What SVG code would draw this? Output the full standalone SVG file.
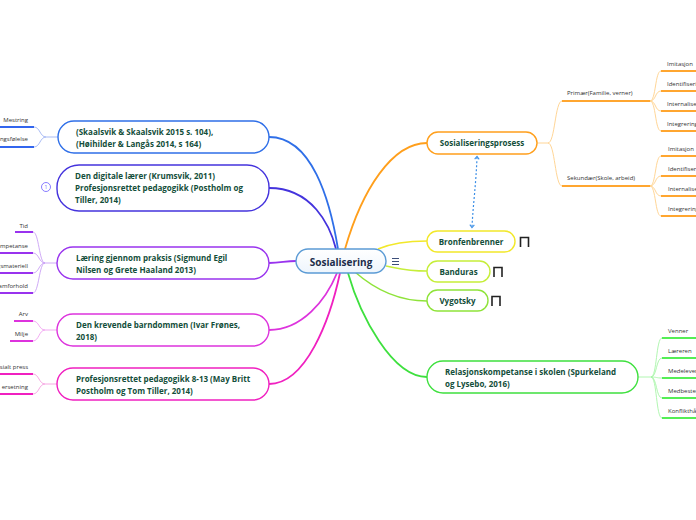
<svg xmlns="http://www.w3.org/2000/svg" width="696" height="520" viewBox="0 0 696 520">
<defs>
<style>
.nt{font-family:"Open Sans","Noto Sans",sans-serif;font-weight:bold;font-size:8px;fill:#134e3a}
.lt{font-family:"Open Sans","Noto Sans",sans-serif;font-size:6px;fill:#333}
.box{fill:#fff;stroke-width:1.4}
.c{fill:none}
.u{fill:none;stroke-width:2}
.lc{fill:none;stroke-width:0.9}
</style>
<marker id="ah" viewBox="0 0 8 8" refX="4" refY="4" markerWidth="5" markerHeight="5" orient="auto-start-reverse">
<path d="M1,1 L5,4 L1,7" fill="none" stroke="#3a8ee6" stroke-width="1.4"/>
</marker>
<linearGradient id="cg" x1="0" y1="0" x2="0" y2="1"><stop offset="0" stop-color="#ffffff"/><stop offset="1" stop-color="#eef5fc"/></linearGradient>
</defs>
<rect width="696" height="520" fill="#fff"/>

<g id="connectors">
<path class="c" d="M269,137 C312,137 330,200 338,249" stroke="#2f6fe8" stroke-width="1.8"/>
<path class="c" d="M269,188 C312,188 330,225 336,249" stroke="#4433dd" stroke-width="1.8"/>
<path class="c" d="M427,143 C392,143 362,190 345,249" stroke="#ff9f1c" stroke-width="1.8"/>
<path class="c" d="M427,241 C406,241 392,243 378,249" stroke="#f2e82a" stroke-width="1.5"/>
<path class="c" d="M427,271 C408,271 397,268 386,266" stroke="#c6ee3a" stroke-width="1.5"/>
<path class="c" d="M427,301 C396,301 372,287 355,272" stroke="#8fe33a" stroke-width="1.5"/>
<path class="c" d="M427,377 C392,377 360,315 348,273" stroke="#3ee03e" stroke-width="1.8"/>
<path class="c" d="M269,263 C281,263 285,261 296,261" stroke="#9933ee" stroke-width="1.8"/>
<path class="c" d="M269,330 C302,330 326,300 337,273" stroke="#dd33dd" stroke-width="1.8"/>
<path class="c" d="M269,384 C306,384 330,320 340,273" stroke="#f020c0" stroke-width="1.8"/>
<path class="c" d="M477,157 C476,185 473,205 472,227" stroke="#3a8ee6" stroke-width="1.2" stroke-dasharray="2,2" marker-start="url(#ah)" marker-end="url(#ah)"/>

<g stroke="#9fb3f3">
<path class="lc" d="M58,137 L46,137 C40,137 40,127 34,127"/>
<path class="lc" d="M46,137 C40,137 40,147 34,147"/>
</g>
<g stroke="#3366ee"><path class="u" d="M0,127 H34"/><path class="u" d="M0,147 H34"/></g>

<g stroke="#c9a0f5">
<path class="lc" d="M57,263 L45,263 C39,263 39,232 33,232"/>
<path class="lc" d="M45,263 C39,263 39,253 33,253"/>
<path class="lc" d="M45,263 C39,263 39,273 33,273"/>
<path class="lc" d="M45,263 C39,263 39,293 33,293"/>
</g>
<g stroke="#9933ee"><path class="u" d="M15,232 H33"/><path class="u" d="M0,253 H33"/><path class="u" d="M0,273 H33"/><path class="u" d="M0,293 H33"/></g>

<g stroke="#f0a0f0">
<path class="lc" d="M57,330 L45,330 C39,330 39,321 33,321"/>
<path class="lc" d="M45,330 C39,330 39,341 33,341"/>
</g>
<g stroke="#dd33dd"><path class="u" d="M14,321 H33"/><path class="u" d="M10,341 H33"/></g>

<g stroke="#f5a0e0">
<path class="lc" d="M57,384 L45,384 C39,384 39,374 33,374"/>
<path class="lc" d="M45,384 C39,384 39,394 33,394"/>
</g>
<g stroke="#f020c0"><path class="u" d="M0,374 H33"/><path class="u" d="M0,394 H33"/></g>

<g stroke="#ffd08a">
<path class="lc" d="M537,143 L548,143 C555,143 555,101 562,101"/>
<path class="lc" d="M548,143 C555,143 555,186 562,186"/>
<path class="lc" d="M650,101 C656,101 655,71 661,71"/>
<path class="lc" d="M650,101 C656,101 655,91 661,91"/>
<path class="lc" d="M650,101 C656,101 655,111 661,111"/>
<path class="lc" d="M650,101 C656,101 655,131 661,131"/>
<path class="lc" d="M650,186 C656,186 655,156 661,156"/>
<path class="lc" d="M650,186 C656,186 655,176 661,176"/>
<path class="lc" d="M650,186 C656,186 655,196 661,196"/>
<path class="lc" d="M650,186 C656,186 655,216 661,216"/>
</g>
<g stroke="#ffa630">
<path class="u" d="M562,101 H650" stroke-width="1.5"/>
<path class="u" d="M562,186 H650" stroke-width="1.5"/>
<path class="u" d="M661,71 H696"/><path class="u" d="M661,91 H696"/><path class="u" d="M661,111 H696"/><path class="u" d="M661,131 H696"/>
<path class="u" d="M661,156 H696"/><path class="u" d="M661,176 H696"/><path class="u" d="M661,196 H696"/><path class="u" d="M661,216 H696"/>
</g>

<g stroke="#a8f5a8">
<path class="lc" d="M638,377 L651,377 C657,377 656,338 662,338"/>
<path class="lc" d="M651,377 C657,377 656,358 662,358"/>
<path class="lc" d="M651,377 C657,377 656,378 662,378"/>
<path class="lc" d="M651,377 C657,377 656,398 662,398"/>
<path class="lc" d="M651,377 C657,377 656,418 662,418"/>
</g>
<g stroke="#55ee55">
<path class="u" d="M662,338 H696"/><path class="u" d="M662,358 H696"/><path class="u" d="M662,378 H696"/><path class="u" d="M662,398 H696"/><path class="u" d="M662,418 H696"/>
</g>
</g>

<g id="n-root">
<rect x="296" y="249" width="90" height="24" rx="12" fill="url(#cg)" stroke="#5b9bd5" stroke-width="1.4"/>
<text x="341" y="265.5" text-anchor="middle" font-family="Open Sans, Noto Sans, sans-serif" font-weight="bold" font-size="10" fill="#1c2d4a">Sosialisering</text>
<path d="M392,258.5 H399 M392,261.5 H399 M392,264.5 H399" stroke="#3d4f7a" stroke-width="1"/>
</g>

<g id="n-skaalsvik">
<rect class="box" x="58" y="121" width="211" height="32" rx="16" stroke="#2f6fe8"/>
<text class="nt" x="76" y="134.8">(Skaalsvik &amp; Skaalsvik 2015 s. 104),</text>
<text class="nt" x="76" y="146.8">(Høihilder &amp; Langås 2014, s 164)</text>
</g>
<g id="l-mestring"><text class="lt" x="28" y="122" text-anchor="end">Mestring</text></g>
<g id="l-mestringsfolelse"><text class="lt" x="28" y="141" text-anchor="end">Mestringsfølelse</text></g>

<g id="n-digital">
<rect class="box" x="57" y="165" width="212" height="46" rx="22" stroke="#4433dd"/>
<text class="nt" x="75" y="178.8">Den digitale lærer (Krumsvik, 2011)</text>
<text class="nt" x="75" y="190.8">Profesjonsrettet pedagogikk (Postholm og</text>
<text class="nt" x="75" y="202.8">Tiller, 2014)</text>
<circle cx="46" cy="187" r="4.5" fill="#fff" stroke="#6a5cff" stroke-width="0.8"/>
<text x="46" y="188.8" text-anchor="middle" font-family="Open Sans, sans-serif" font-size="5" fill="#6a5cff">1</text>
</g>

<g id="n-laering">
<rect class="box" x="57" y="247" width="212" height="32" rx="16" stroke="#9933ee"/>
<text class="nt" x="76" y="260.8">Læring gjennom praksis (Sigmund Egil</text>
<text class="nt" x="76" y="272.8">Nilsen og Grete Haaland 2013)</text>
</g>
<g id="l-tid"><text class="lt" x="28" y="228" text-anchor="end">Tid</text></g>
<g id="l-kompetanse"><text class="lt" x="28" y="248" text-anchor="end">Kompetanse</text></g>
<g id="l-materiell"><text class="lt" x="28" y="268" text-anchor="end">Undervisningsmateriell</text></g>
<g id="l-forhold"><text class="lt" x="28" y="288" text-anchor="end">amforhold</text></g>

<g id="n-krevende">
<rect class="box" x="57" y="314" width="212" height="32" rx="16" stroke="#dd33dd"/>
<text class="nt" x="76" y="327.8">Den krevende barndommen (Ivar Frønes,</text>
<text class="nt" x="76" y="339.8">2018)</text>
</g>
<g id="l-arv"><text class="lt" x="28" y="316" text-anchor="end">Arv</text></g>
<g id="l-milje"><text class="lt" x="28" y="336" text-anchor="end">Milje</text></g>

<g id="n-profesjon">
<rect class="box" x="57" y="368" width="212" height="32" rx="16" stroke="#f020c0"/>
<text class="nt" x="76" y="381.8">Profesjonsrettet pedagogikk 8-13 (May Britt</text>
<text class="nt" x="76" y="393.8">Postholm og Tom Tiller, 2014)</text>
</g>
<g id="l-press"><text class="lt" x="28" y="369" text-anchor="end">Sosialt press</text></g>
<g id="l-setning"><text class="lt" x="28" y="389" text-anchor="end">ersetning</text></g>

<g id="n-prosess">
<rect class="box" x="427" y="132" width="110" height="22" rx="11" stroke="#ff9f1c"/>
<text class="nt" x="482" y="146" text-anchor="middle">Sosialiseringsprosess</text>
</g>
<g id="l-primaer"><text class="lt" x="567" y="95">Primær(Familie, verner)</text></g>
<g id="l-sekundaer"><text class="lt" x="567" y="180">Sekundær(Skole, arbeid)</text></g>
<g id="l-p1"><text class="lt" x="667" y="66">Imitasjon</text></g>
<g id="l-p2"><text class="lt" x="667" y="86">Identifisering</text></g>
<g id="l-p3"><text class="lt" x="667" y="106">Internalisering</text></g>
<g id="l-p4"><text class="lt" x="667" y="126">Integrering</text></g>
<g id="l-s1"><text class="lt" x="668" y="151">Imitasjon</text></g>
<g id="l-s2"><text class="lt" x="668" y="171">Identifisering</text></g>
<g id="l-s3"><text class="lt" x="668" y="191">Internalisering</text></g>
<g id="l-s4"><text class="lt" x="668" y="211">Integrering</text></g>

<g id="n-bronfenbrenner">
<rect class="box" x="427" y="231" width="88" height="21" rx="10.5" stroke="#f2e82a"/>
<text class="nt" x="471" y="244.8" text-anchor="middle">Bronfenbrenner</text>
<path d="M520.5,247 V237.5 H528.5 V247" fill="none" stroke="#222" stroke-width="1.6"/>
</g>
<g id="n-banduras">
<rect class="box" x="427" y="261" width="63" height="21" rx="10.5" stroke="#c6ee3a"/>
<text class="nt" x="458.5" y="274.8" text-anchor="middle">Banduras</text>
<path d="M494,277 V267.5 H502 V277" fill="none" stroke="#222" stroke-width="1.6"/>
</g>
<g id="n-vygotsky">
<rect class="box" x="427" y="290" width="61" height="21" rx="10.5" stroke="#8fe33a"/>
<text class="nt" x="457.5" y="303.8" text-anchor="middle">Vygotsky</text>
<path d="M492,306 V296.5 H500 V306" fill="none" stroke="#222" stroke-width="1.6"/>
</g>

<g id="n-relasjon">
<rect class="box" x="427" y="361" width="211" height="32" rx="16" stroke="#3ee03e"/>
<text class="nt" x="445" y="374.8">Relasjonskompetanse i skolen (Spurkeland</text>
<text class="nt" x="445" y="386.8">og Lysebo, 2016)</text>
</g>
<g id="l-r1"><text class="lt" x="668" y="333">Venner</text></g>
<g id="l-r2"><text class="lt" x="668" y="353">Læreren</text></g>
<g id="l-r3"><text class="lt" x="668" y="373">Medelever</text></g>
<g id="l-r4"><text class="lt" x="668" y="393">Medbestemmelse</text></g>
<g id="l-r5"><text class="lt" x="668" y="413">Konflikthåndtering</text></g>
</svg>
